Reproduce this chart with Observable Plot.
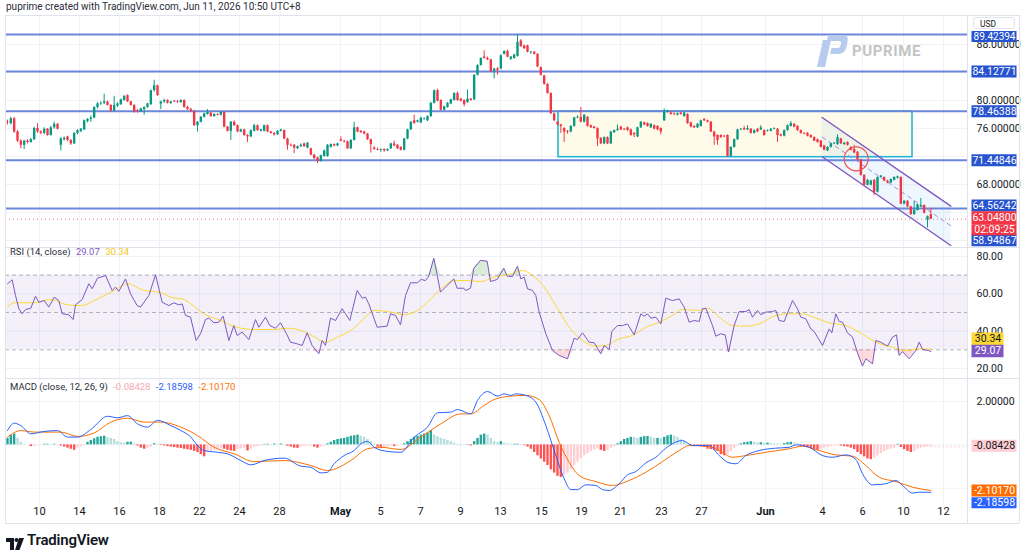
<!DOCTYPE html>
<html><head><meta charset="utf-8">
<script src="https://cdn.jsdelivr.net/npm/d3@7"></script>
<script src="https://cdn.jsdelivr.net/npm/@observablehq/plot@0.6"></script>
<style>
body{margin:0;background:#fff;font-family:Roboto,"Liberation Sans",sans-serif;color:#131722;}
#root{position:relative;width:1024px;height:558px;overflow:hidden;background:#fff;}
.abs{position:absolute;}
.ln{position:absolute;background:#e0e3eb;}
</style></head><body><div id="root"></div>
<script>
// ---------- DATA ----------
// 4h candles: [open, high, low, close]
const candles = [
[76.9,77.2,76.5,76.8],[76.7,77.6,76.5,77.4],[77.4,77.6,75.3,75.5],[75.5,75.7,74.0,74.2],[74.2,74.4,73.1,73.6],[73.6,74.3,73.0,74.2],
[74.2,74.4,73.8,74.0],[74.0,74.6,73.9,74.4],[74.4,76.2,74.3,76.0],[76.0,76.7,75.3,75.5],[75.5,75.7,75.1,75.3],[75.3,76.1,75.1,75.9],
[75.9,76.0,74.9,75.0],[75.0,76.3,74.9,76.1],[76.1,76.9,75.9,76.6],[76.6,76.7,75.8,75.9],[73.6,74.7,72.8,74.5],[74.4,74.8,74.2,74.6],
[74.8,74.9,74.1,74.3],[74.3,74.4,73.6,73.8],[73.8,75.4,73.7,75.3],[75.3,75.8,75.1,75.7],[75.6,76.0,75.4,75.9],[75.8,77.2,75.7,77.1],
[77.0,77.4,76.8,77.3],[77.3,77.8,76.9,77.5],[77.5,79.1,77.4,79.0],[79.0,79.7,78.8,79.5],[79.5,79.8,79.3,79.6],[79.6,80.9,79.4,79.8],
[79.8,79.9,79.2,79.3],[79.3,79.4,78.3,78.5],[78.5,80.6,78.4,79.3],[79.2,79.7,79.0,79.5],[79.4,80.2,79.3,80.1],[80.0,80.7,79.9,80.6],
[80.7,80.8,79.7,79.8],[79.8,79.9,79.2,79.3],[79.3,79.4,78.2,78.4],[78.5,78.7,78.2,78.4],[78.4,78.9,78.3,78.8],[78.7,79.1,77.9,79.0],
[79.0,79.6,78.9,79.5],[79.4,81.5,79.3,81.4],[81.4,82.9,81.2,82.1],[82.1,82.2,80.6,80.7],[79.5,79.9,78.7,79.8],[79.8,80.2,79.6,80.0],
[80.0,80.1,79.5,79.6],[79.6,79.9,79.4,79.8],[79.9,80.0,79.7,79.8],[79.8,80.0,79.6,79.7],[79.7,80.1,79.6,80.0],[80.0,80.1,78.9,79.0],
[79.0,79.2,78.6,78.7],[78.7,78.9,78.3,78.5],[78.4,78.6,76.3,76.4],[76.4,77.0,75.5,76.9],[76.9,77.7,76.8,77.6],[77.6,78.2,77.5,78.1],
[78.0,78.7,77.9,78.3],[78.2,78.3,77.6,77.7],[77.7,78.1,77.6,78.0],[78.0,78.1,77.8,77.9],[77.9,78.4,77.8,78.3],[78.3,78.4,76.1,76.2],
[76.2,76.3,75.5,75.6],[75.6,77.0,74.3,76.9],[76.9,77.1,76.3,76.4],[76.4,76.5,75.4,75.5],[75.5,75.9,75.4,75.8],[75.8,75.9,74.9,75.0],
[75.0,75.1,74.0,74.8],[74.8,75.8,74.7,75.7],[75.6,76.6,75.5,76.4],[76.4,76.5,75.6,75.7],[75.6,75.9,75.5,75.8],[75.6,76.5,75.5,76.4],
[76.4,76.5,75.4,75.5],[75.5,75.6,75.2,75.3],[75.3,75.4,74.9,75.1],[75.1,75.7,75.0,75.6],[75.6,75.9,75.5,75.8],[75.7,75.8,74.4,74.5],
[74.5,74.6,72.9,73.6],[73.6,73.8,73.4,73.5],[73.6,73.7,72.4,73.2],[73.1,73.5,73.0,73.4],[73.4,73.8,73.3,73.6],[73.8,73.9,73.3,73.4],
[73.2,74.0,73.1,73.9],[73.1,73.2,72.1,72.2],[72.2,72.3,71.6,71.7],[71.8,71.9,71.0,71.3],[71.3,72.2,71.2,72.1],[72.0,72.9,71.9,72.8],
[72.0,73.7,71.9,73.6],[73.3,73.8,73.2,73.7],[73.7,73.8,73.4,73.5],[73.5,73.9,73.4,73.8],[74.4,74.8,74.1,74.2],[74.2,74.3,73.9,74.1],
[74.1,74.2,73.0,73.1],[73.1,74.4,73.0,74.3],[74.3,76.9,74.2,76.1],[76.1,76.2,75.4,75.5],[75.6,75.7,75.3,75.4],[75.5,75.6,75.1,75.2],
[75.2,75.3,74.3,74.4],[74.4,74.5,72.5,73.7],[73.2,73.4,72.9,73.0],[73.0,73.2,72.8,72.9],[72.9,73.1,72.6,73.0],[73.0,73.1,72.6,72.8],
[72.8,73.1,72.7,73.0],[73.1,73.9,73.0,73.8],[73.8,74.2,73.4,73.5],[73.6,73.7,73.0,73.1],[73.3,73.4,72.8,72.9],[72.9,74.6,72.8,74.5],
[74.5,75.9,74.4,75.8],[75.8,77.0,75.7,76.9],[77.1,77.9,76.6,76.7],[76.9,77.2,76.8,77.1],[76.8,77.6,76.7,77.5],[77.3,77.5,77.2,77.4],
[77.1,77.8,77.0,77.7],[77.7,79.7,77.6,79.6],[79.6,81.5,79.5,81.4],[81.4,81.6,79.8,79.9],[80.0,80.1,78.5,78.6],[78.6,79.2,78.5,79.1],
[79.0,79.7,78.9,79.6],[79.5,80.2,79.4,80.1],[80.0,81.1,79.9,81.0],[81.0,81.2,79.9,80.0],[80.2,80.3,79.8,79.9],[80.0,80.1,79.1,79.4],
[79.7,81.5,79.6,80.2],[80.2,80.3,79.9,80.0],[80.1,83.7,80.0,83.6],[83.6,85.1,83.5,85.0],[85.0,86.1,84.9,86.0],[86.2,87.1,85.9,86.0],
[86.0,86.2,85.7,85.8],[85.8,85.9,84.0,84.1],[84.1,84.6,83.1,84.5],[84.5,84.7,83.6,84.3],[84.5,86.5,84.4,86.4],[86.6,87.1,86.5,87.0],
[87.0,87.2,86.1,86.2],[85.9,86.3,85.7,86.2],[86.0,86.6,85.9,86.5],[86.3,89.4,86.2,88.3],[88.5,88.7,87.6,87.7],[87.8,87.9,87.3,87.4],
[87.8,87.9,86.8,86.9],[86.8,87.0,86.6,86.9],[86.9,87.0,86.5,86.6],[86.6,86.7,84.7,84.8],[84.7,84.8,83.5,83.6],[83.5,83.6,82.2,82.3],
[82.3,82.4,80.9,81.0],[81.0,81.1,78.0,78.1],[78.1,78.2,77.0,77.1],[76.9,77.0,76.4,76.5],[76.5,76.6,75.3,76.3],[76.0,76.1,74.0,75.5],
[75.6,75.7,75.2,75.5],[75.5,76.4,75.4,76.3],[76.3,77.6,76.2,77.5],[77.5,77.8,77.4,77.6],[77.6,79.0,76.8,76.9],[76.9,78.0,76.8,77.9],
[77.6,77.7,76.2,76.3],[76.4,76.5,76.0,76.1],[76.2,76.3,75.9,76.0],[76.0,76.1,73.4,74.5],[74.6,74.7,73.7,73.8],[73.8,74.8,73.7,74.7],
[74.7,74.8,73.7,73.8],[73.8,75.6,73.7,75.5],[75.4,75.8,75.3,75.7],[75.7,76.5,75.6,75.9],[76.2,76.3,75.7,75.8],[75.9,76.0,75.7,75.8],
[76.1,76.2,75.6,75.7],[75.8,75.9,74.9,75.0],[75.3,75.4,74.7,75.1],[74.8,76.2,74.7,76.1],[76.1,77.0,76.0,76.9],[76.8,76.9,76.4,76.5],
[76.7,76.8,76.2,76.3],[76.1,76.7,76.0,76.6],[76.4,76.5,75.8,75.9],[76.3,76.4,75.7,75.8],[76.0,76.1,75.1,75.5],[77.1,78.8,77.0,78.3],
[78.3,78.6,78.2,78.5],[78.2,78.4,77.9,78.0],[78.1,78.2,77.8,78.0],[77.9,78.2,77.8,78.1],[78.2,78.3,77.9,78.0],[77.7,78.3,77.6,78.2],
[78.0,78.1,76.6,76.7],[76.8,76.9,76.1,76.2],[76.3,76.4,76.0,76.1],[76.1,76.7,76.0,76.6],[76.3,77.2,76.2,77.1],[77.3,77.4,77.0,77.1],
[77.1,77.2,76.8,76.9],[76.9,77.0,75.4,75.5],[75.5,75.6,73.6,74.8],[75.0,75.1,73.6,74.3],[75.0,75.1,74.6,74.7],[74.9,75.0,74.7,74.8],
[75.0,75.1,71.9,72.0],[72.0,73.4,71.9,73.3],[73.3,74.5,73.2,74.4],[74.4,75.9,74.3,75.8],[75.8,76.0,75.7,75.9],[76.0,76.3,75.7,75.8],
[75.8,76.4,75.7,76.0],[75.9,76.0,75.2,75.3],[75.3,75.8,75.2,75.7],[75.9,76.0,75.4,75.5],[75.8,76.4,75.7,76.1],[75.7,75.8,74.9,75.0],
[75.6,75.8,75.5,75.7],[75.6,76.0,75.5,75.9],[75.9,76.1,75.8,76.0],[75.9,76.0,74.0,75.0],[75.1,75.2,74.8,74.9],[74.9,75.8,74.8,75.7],
[75.7,76.5,75.6,76.4],[76.3,77.0,76.2,76.7],[76.6,76.7,76.1,76.2],[76.3,76.4,75.6,75.7],[75.7,75.8,75.2,75.3],[75.3,75.4,75.1,75.2],
[75.3,75.4,74.8,74.9],[75.0,75.1,74.6,74.7],[74.7,74.8,74.1,74.2],[74.4,74.5,73.9,74.0],[74.2,74.3,73.2,73.3],[73.5,73.6,72.8,72.9],
[72.8,73.4,72.7,73.3],[73.3,73.9,73.2,73.8],[73.8,74.0,73.7,73.9],[73.7,75.1,73.6,74.7],[74.5,74.6,73.7,73.8],[73.7,74.0,73.6,73.9],
[74.0,74.1,73.5,73.6],[73.3,73.4,72.8,72.9],[73.0,73.6,72.4,72.5],[72.6,72.7,71.4,71.5],[71.5,71.6,69.2,69.3],[69.3,69.4,67.8,67.9],
[67.9,68.7,67.8,68.6],[67.9,68.6,67.8,68.5],[68.6,68.7,66.4,66.9],[66.9,69.1,66.8,69.0],[69.0,69.3,68.9,69.2],[69.0,69.1,68.4,68.5],
[68.5,68.6,68.1,68.2],[68.2,68.8,68.1,68.7],[68.6,69.1,68.5,69.0],[68.9,69.2,68.8,69.1],[69.0,69.1,65.1,65.2],[65.2,65.7,65.1,65.6],
[65.6,65.7,64.7,64.8],[64.8,64.9,63.6,63.7],[63.7,65.6,63.6,64.3],[64.3,65.2,64.2,65.1],[64.8,66.0,64.7,65.0],[65.0,65.1,63.8,63.9],
[62.9,63.5,61.8,63.4],[63.7,64.6,63.0,63.048]
];
// x-axis labels (bar index of each label)
const tickBars = [9.6,21.6,33.6,45.6,57.6,69.6,81.6,99.9,111.9,123.9,135.9,147.9,160.2,172.2,183.9,196.2,208.2,227.4,244.5,256.5,268.8,280.8];
const tickLabels = ["10","14","16","18","22","24","28","May","5","7","9","13","15","19","21","23","27","Jun","4","6","10","12"];
const priceGrid = [88,84,80,76,72,68,64,60];
const priceLabels = [88,80,76,68];
const topLevel = [89.42394];
const levels = [84.12771,78.46388,71.44846];
const level2 = [64.56242];
const offLevel = [58.94867];
const lastPrice = [63.048];
const countdown = ["02:09:25"];
const zoneBars = [165.3,271.5];
const zonePrices = [71.9,78.43];
const channelBars = [244.4,283];
const channelUpper = [77.57,64.9];
const channelLower = [71.96,59.29];
const circleAt = [[254.6,71.67]];
// RSI (bar, value)
const rsiPts = [[0,65.4],[1.4,67.5],[2.4,59.1],[3.4,52.0],[4.4,49.3],[5.4,51.6],[7,52.3],[8.4,58.7],[9.4,55.5],[11,56.4],[12.4,52.9],[14,58.2],[15.4,56.4],[16.4,49.3],[18.4,48.8],[19.7,46.2],[20.4,54.1],[22.4,57.0],[24.4,65.4],[25.4,62.7],[27,68.4],[29.4,69.8],[31.4,61.8],[32.4,63.6],[33.4,61.3],[35.4,68.0],[36.9,60.0],[38.9,53.7],[39.9,52.9],[42.4,59.1],[44.4,70.2],[46.4,55.5],[48.4,53.7],[49.9,55.2],[51.4,54.1],[52.4,54.6],[53.4,48.4],[54.9,47.5],[56.6,35.0],[57.9,38.6],[59.4,46.2],[60.4,47.0],[61.9,44.5],[63.4,44.8],[64.7,48.0],[66.4,35.0],[67.9,43.0],[68.9,37.7],[70.4,39.5],[72.4,35.5],[74.4,46.2],[75.4,42.1],[77.4,47.5],[78.7,43.0],[80.4,41.6],[81.9,44.5],[83.7,38.6],[84.9,34.1],[86.9,33.2],[88.4,32.3],[89.9,39.1],[91.4,32.3],[93.4,27.9],[94.4,35.0],[95.4,32.3],[96.9,47.0],[98.4,45.7],[100.4,52.0],[101.4,49.3],[102.7,45.7],[104.9,61.8],[106.4,57.7],[107.4,58.2],[108.4,54.6],[110.9,42.1],[113.9,42.7],[114.9,49.3],[116.4,48.4],[117.9,43.4],[119.4,59.1],[120.9,65.9],[122.9,65.9],[124.1,67.7],[125.4,67.1],[126.4,69.5],[127.9,79.1],[129.9,60.9],[131.9,64.5],[133.9,68.0],[134.9,63.0],[136.9,63.0],[137.4,61.8],[138.9,63.0],[139.9,73.7],[141.9,77.9],[143.9,77.5],[144.9,66.6],[146.9,67.7],[148.9,73.7],[149.9,69.5],[151.5,69.3],[153,74.8],[154,68.0],[155,68.9],[156,62.7],[157.5,61.8],[158.5,59.1],[159.5,50.2],[161.5,38.6],[163.5,29.6],[165.5,27.0],[168,25.2],[170,36.2],[171,35.5],[172.5,39.1],[174.5,34.1],[176,33.8],[178,27.9],[179,32.3],[180.5,30.2],[181.3,39.8],[183,43.0],[184.5,43.0],[186,43.9],[188,38.0],[190,49.3],[191,48.0],[192,49.3],[193,47.0],[194.5,47.5],[196,43.9],[197.5,57.7],[199.5,56.4],[201.5,57.3],[203,52.9],[204.5,44.8],[206,45.7],[207.5,45.2],[208.5,52.0],[209.5,52.3],[211.5,43.0],[212.5,37.3],[214,38.6],[215.3,38.0],[216.3,28.8],[218,43.0],[219.5,50.5],[221.5,50.5],[222.5,51.6],[223.5,47.5],[225,51.1],[226,48.8],[227.5,50.2],[229.5,50.5],[230.5,51.1],[231.5,45.7],[233,45.2],[235.5,56.4],[237,52.0],[238,47.5],[239.5,46.6],[241,41.2],[242,39.8],[244.5,32.3],[246.5,41.2],[247.3,39.1],[248.5,49.3],[249.5,45.2],[250.5,44.8],[252,39.1],[253.5,36.8],[255,28.4],[256.5,21.3],[257.5,25.2],[259.5,22.5],[260.5,35.0],[262,34.1],[264,32.0],[265.5,36.8],[266.7,38.0],[267.5,27.0],[268.5,29.1],[270.5,25.2],[272.5,29.6],[273.5,34.1],[274.5,30.2],[276.3,29.6],[277,29.07]];
const rsiMaPts = [[0,52.9],[2,55.2],[8,55.2],[13,57.0],[18,54.1],[22,53.7],[27,57.3],[32,61.8],[36,65.4],[41,61.8],[45.4,60.9],[50,57.7],[52.4,57.3],[55.4,54.1],[58.9,49.3],[64,45.7],[68,42.5],[74,40.9],[80,40.9],[84,41.6],[88,40.4],[91,38.0],[95.4,34.1],[99,36.8],[103,40.4],[106.4,45.7],[110,51.1],[115,50.2],[119,48.8],[123,51.1],[127,57.3],[130,62.7],[134,67.1],[138,67.1],[142,66.6],[146,68.9],[151,70.7],[154.5,72.5],[157.5,69.8],[160.5,64.8],[164.5,53.7],[168.5,42.1],[172.5,35.0],[176.5,32.0],[179.5,32.3],[183.5,35.9],[187.5,37.7],[191.5,42.1],[195.5,44.8],[199.5,48.4],[202.5,51.6],[207.5,51.1],[210,52.3],[213.5,47.5],[217.5,43.0],[221.5,42.7],[225.5,43.9],[230.5,48.4],[234.5,49.3],[238.5,49.3],[242.5,47.0],[246.5,44.5],[251.5,43.0],[255.5,39.5],[260.5,34.1],[265.5,31.4],[269.5,29.6],[273.5,30.5],[277,30.34]];
const rsiTicks = [80,60,40,20];
const rsiBands = [70,50,30];
const rsiLast = [29.07];
const rsiMaLast = [30.34];
// MACD (bar, value)
const macdPts = [[0,0.66],[2,1.0],[4,0.89],[7,0.51],[11,0.62],[15,0.66],[18,0.36],[21,0.36],[25,0.71],[30,1.32],[33,1.25],[36,1.35],[39,0.97],[42,0.82],[45,1.13],[49,0.89],[52,0.66],[55,0.36],[57,-0.03],[59,-0.26],[63,-0.34],[66,-0.41],[70,-0.72],[73,-0.92],[77,-0.72],[83,-0.61],[88,-0.98],[91,-1.03],[94,-1.29],[96,-1.26],[98,-0.87],[101,-0.49],[104,-0.26],[106,0.05],[108,0.16],[110,-0.11],[114,-0.30],[118,-0.34],[122,0.36],[126,0.82],[129,1.48],[133,1.51],[135,1.63],[139,1.43],[141,2.05],[144,2.46],[147,2.25],[149,2.35],[151,2.28],[152.5,2.35],[155.5,2.28],[158.5,1.97],[161.5,0.89],[164.5,-0.49],[167,-1.56],[169,-2.06],[171,-2.06],[173.5,-1.84],[176.5,-1.87],[178.5,-2.06],[180.5,-2.10],[183.5,-1.79],[186,-1.38],[188.5,-1.23],[191.5,-0.83],[194.5,-0.57],[197.5,-0.15],[202.5,0.20],[205.5,-0.03],[210.5,-0.03],[213.5,-0.49],[216.5,-0.83],[218.5,-0.87],[221.5,-0.49],[225.5,-0.26],[230.5,-0.15],[234.5,-0.11],[236.5,0.0],[240.5,-0.11],[244.5,-0.49],[247.5,-0.57],[251.5,-0.46],[254.5,-0.67],[256.5,-1.33],[259.5,-1.84],[263.5,-1.79],[266.5,-1.64],[268.5,-1.87],[271.5,-2.22],[273.5,-2.18],[277,-2.186]];
const signalPts = [[0,0.36],[4,0.66],[8,0.59],[16,0.59],[21,0.39],[26,0.55],[31,1.05],[36,1.23],[41,1.05],[46,1.05],[52,0.82],[57,0.43],[62,-0.11],[68,-0.41],[74,-0.77],[83,-0.72],[91,-0.95],[96,-1.18],[103,-0.72],[108,-0.18],[112,-0.11],[118,-0.21],[124,0.36],[130,0.97],[136,1.43],[139,1.43],[143,1.82],[146,2.09],[151,2.25],[155.5,2.28],[159.5,2.09],[162.5,1.35],[165.5,0.12],[168.5,-0.80],[171.5,-1.41],[176.5,-1.69],[181.5,-1.87],[186.5,-1.64],[191.5,-1.26],[196.5,-0.77],[201.5,-0.26],[204.5,-0.03],[209.5,-0.06],[213.5,-0.26],[217.5,-0.57],[221.5,-0.49],[227.5,-0.34],[234.5,-0.18],[238.5,-0.06],[243.5,-0.26],[248.5,-0.46],[253.5,-0.52],[257.5,-0.95],[261.5,-1.49],[266.5,-1.69],[271.5,-1.95],[277,-2.1017]];
const hist = [0.3,0.45,0.5,0.3,0.12,0.02,0.0,-0.08,-0.08,-0.02,-0.01,0.03,0.03,0.02,0.03,0.02,-0.05,-0.1,-0.15,-0.2,-0.25,-0.15,-0.08,-0.03,
0.12,0.2,0.28,0.35,0.38,0.4,0.35,0.3,0.25,0.15,0.1,0.08,0.12,0.13,0.05,-0.05,-0.15,-0.2,-0.15,-0.1,0.06,0.03,-0.03,-0.05,
-0.08,-0.1,-0.12,-0.15,-0.17,-0.2,-0.22,-0.25,-0.3,-0.35,-0.45,-0.55,-0.35,-0.3,-0.25,-0.2,-0.18,-0.2,-0.25,-0.28,-0.3,-0.22,-0.18,-0.15,
-0.28,-0.2,-0.12,-0.08,-0.05,0.02,0.03,0.02,0.04,0.03,0.04,0.02,-0.06,-0.1,-0.15,-0.16,-0.1,-0.08,-0.05,-0.05,-0.1,-0.15,-0.1,-0.05,
0.05,0.12,0.2,0.25,0.28,0.3,0.35,0.4,0.42,0.45,0.4,0.35,0.25,0.15,0.05,-0.1,-0.15,-0.12,-0.08,-0.05,-0.08,-0.05,-0.02,0.05,
0.15,0.25,0.35,0.4,0.45,0.5,0.55,0.66,0.45,0.38,0.3,0.25,0.2,0.15,0.08,0.03,0.02,0.01,0.02,-0.05,0.15,0.3,0.45,0.5,
0.45,0.3,0.15,0.1,0.15,0.08,0.05,0.03,0.03,0.03,0.02,-0.03,-0.1,-0.2,-0.35,-0.5,-0.65,-0.8,-0.95,-1.15,-1.3,-1.45,-1.5,-1.4,
-1.3,-1.15,-0.95,-0.8,-0.65,-0.5,-0.4,-0.3,-0.25,-0.2,-0.25,-0.3,-0.25,-0.15,-0.08,0.05,0.15,0.25,0.3,0.35,0.34,0.3,0.35,0.38,
0.39,0.35,0.3,0.3,0.28,0.35,0.42,0.45,0.4,0.35,0.25,0.15,0.05,-0.02,-0.03,-0.05,-0.08,-0.12,-0.2,-0.22,-0.25,-0.3,-0.45,-0.5,
-0.45,-0.3,-0.15,-0.05,0.05,0.1,0.12,0.15,0.12,0.1,0.1,0.08,0.08,0.06,0.05,0.04,0.03,0.06,0.1,0.12,0.08,0.04,-0.03,-0.08,
-0.12,-0.18,-0.22,-0.25,-0.2,-0.15,-0.12,-0.08,-0.05,-0.04,-0.05,-0.08,-0.1,-0.15,-0.22,-0.35,-0.45,-0.55,-0.65,-0.68,-0.6,-0.5,-0.4,-0.3,
-0.25,-0.2,-0.15,0.03,-0.12,-0.22,-0.3,-0.35,-0.3,-0.2,-0.15,-0.12,-0.1,-0.08428];
const macdGrid = [2,0,-2];
const macdLabels = [2];
const macdLast = [-2.18598];
const signalLast = [-2.10170];
const histLast = [-0.08428];

// ---------- LAYOUT / STYLE ----------
const root = document.getElementById("root");
const FONT = 'Roboto, "Liberation Sans", sans-serif';
const W = 1019, MR = 57, FW = W - MR;
const xDomain = [-0.6, 288.0];
const UP = "#089981", DN = "#f23645", GRID = "#f0f2f6";
const FS = 10.5;
const baseStyle = {fontFamily: FONT, fontSize: FS + "px", color: "#131722", background: "transparent", overflow: "visible"};

function place(el, left, top) {
  const d = document.createElement("div");
  d.className = "abs"; d.style.left = left + "px"; d.style.top = top + "px";
  d.appendChild(el); root.appendChild(d); return d;
}
function tag(vals, {bg, fg, dy = 0, w = 45, h = 12, text, x0 = 4.5, fs = FS}) {
  return [
    Plot.tickY(vals, {y: d => d, stroke: bg, strokeWidth: h, insetLeft: FW + x0, insetRight: -(x0 + w), dy}),
    Plot.text(vals, {y: d => d, text, frameAnchor: "right", textAnchor: "middle", dx: x0 + w / 2, dy, fill: fg, fontSize: fs})
  ];
}
function axisText(vals, fmt, dy = 0) {
  return Plot.text(vals, {y: d => d, text: fmt, frameAnchor: "right", textAnchor: "start", dx: 9, dy, fill: "#131722", fontSize: FS});
}
const fmt5 = d => d.toFixed(5);

// ---------- PRICE PANE ----------
const candleData = candles.map(([o, h, l, c], i) => ({i, o, h, l, c, col: c >= o ? UP : DN}));
const zone = [{x1: zoneBars[0], x2: zoneBars[1], y1: zonePrices[0], y2: zonePrices[1]}];
const channel = channelBars.map((b, k) => ({b, up: channelUpper[k], lo: channelLower[k], mid: (channelUpper[k] + channelLower[k]) / 2}));

const pricePlot = Plot.plot({
  width: W, height: 232, marginLeft: 0, marginRight: MR, marginTop: 0, marginBottom: 0,
  x: {domain: xDomain, axis: null}, y: {domain: [59.0, 92.143], axis: null},
  color: {type: "identity"}, style: baseStyle,
  marks: [
    Plot.ruleX(tickBars, {stroke: GRID}),
    Plot.ruleY(priceGrid, {stroke: GRID}),
    Plot.rect(zone, {x1: "x1", x2: "x2", y1: "y1", y2: "y2", fill: "#fffbea", stroke: "#22b8d4", strokeWidth: 1.6}),
    Plot.areaY(channel, {x: "b", y1: "lo", y2: "up", fill: "#2196f3", fillOpacity: 0.08, clip: true}),
    Plot.ruleY([...topLevel, ...levels, ...level2], {stroke: "#6c86dc", strokeWidth: 2}),
    Plot.ruleY(lastPrice, {stroke: DN, strokeOpacity: 0.7, strokeDasharray: "1,3"}),
    Plot.line(channel, {x: "b", y: "up", stroke: "#7e57c2", strokeWidth: 1.4, clip: true}),
    Plot.line(channel, {x: "b", y: "lo", stroke: "#7e57c2", strokeWidth: 1.4, clip: true}),
    Plot.line(channel, {x: "b", y: "mid", stroke: "#9c8fe0", strokeWidth: 1, strokeDasharray: "4,4", clip: true}),
    Plot.ruleX(candleData, {x: "i", y1: "l", y2: "h", stroke: "col", strokeWidth: 1}),
    Plot.ruleX(candleData, {x: "i", y1: "o", y2: "c", stroke: "col", strokeWidth: 2.4}),
    Plot.dot(circleAt, {x: d => d[0], y: d => d[1], r: 12, stroke: "#ef5350", strokeWidth: 1.2, fill: "none"}),
    axisText(priceLabels, fmt5),
    ...tag(topLevel, {bg: "#2753cf", fg: "#fff", text: fmt5, dy: 2, h: 11, fs: 10}),
    ...tag(levels, {bg: "#2753cf", fg: "#fff", text: fmt5}),
    ...tag(level2, {bg: "#2753cf", fg: "#fff", text: fmt5, dy: -3}),
    ...tag(offLevel, {bg: "#2753cf", fg: "#fff", text: fmt5, dy: -7.5}),
    ...tag(lastPrice, {bg: DN, fg: "#fff", text: fmt5, dy: -1.5, h: 13}),
    ...tag(lastPrice, {bg: DN, fg: "#fff", text: () => countdown[0], dy: 10.5, h: 11})
  ]
});
place(pricePlot, 5, 15);

// ---------- RSI PANE ----------
const rsiData = rsiPts.map(([b, v]) => ({b, v}));
const rsiMaData = rsiMaPts.map(([b, v]) => ({b, v}));
const rsiPlot = Plot.plot({
  width: W, height: 131, marginLeft: 0, marginRight: MR, marginTop: 0, marginBottom: 0,
  x: {domain: xDomain, axis: null}, y: {domain: [14.64, 84.82], axis: null},
  color: {type: "identity"}, style: baseStyle,
  marks: [
    Plot.ruleX(tickBars, {stroke: GRID}),
    Plot.ruleY(rsiTicks, {stroke: GRID}),
    Plot.rect([rsiBands], {x1: xDomain[0], x2: xDomain[1], y1: d => d[2], y2: d => d[0], fill: "#7e57c2", fillOpacity: 0.09}),
    Plot.ruleY(rsiBands, {stroke: "#787b86", strokeOpacity: 0.55, strokeDasharray: "4,3"}),
    Plot.areaY(rsiData, {x: "b", y1: rsiBands[0], y2: d => Math.max(rsiBands[0], d.v), fill: "#4caf50", fillOpacity: 0.22}),
    Plot.areaY(rsiData, {x: "b", y1: rsiBands[2], y2: d => Math.min(rsiBands[2], d.v), fill: "#f23645", fillOpacity: 0.18}),
    Plot.line(rsiMaData, {x: "b", y: "v", stroke: "#fdd835", strokeWidth: 1, curve: "monotone-x"}),
    Plot.line(rsiData, {x: "b", y: "v", stroke: "#7e57c2", strokeWidth: 1}),
    axisText(rsiTicks, d => d.toFixed(2)),
    ...tag(rsiMaLast, {bg: "#fdd835", fg: "#131722", text: d => d.toFixed(2), w: 32, dy: -10.5, h: 12.5}),
    ...tag(rsiLast, {bg: "#7e57c2", fg: "#fff", text: d => d.toFixed(2), w: 32, dy: -0.5, h: 12.5})
  ]
});
place(rsiPlot, 5, 247);

// ---------- MACD PANE ----------
const histData = hist.map((v, i) => {
  const p = i > 0 ? hist[i - 1] : v;
  const col = v >= 0 ? (v >= p ? "#26a69a" : "#b2dfdb") : (v < p ? "#ff5252" : "#ffcdd2");
  return {i, v, col};
});
const macdData = macdPts.map(([b, v]) => ({b, v}));
const sigData = signalPts.map(([b, v]) => ({b, v}));
const ticks = tickBars.map((b, k) => ({b, label: tickLabels[k], month: isNaN(+tickLabels[k])}));
const macdPlot = Plot.plot({
  width: W, height: 145, marginLeft: 0, marginRight: MR, marginTop: 0, marginBottom: 18,
  x: {domain: xDomain, axis: null}, y: {domain: [-2.793, 3.06], axis: null},
  color: {type: "identity"}, style: baseStyle,
  marks: [
    Plot.ruleX(tickBars, {stroke: GRID}),
    Plot.ruleY(macdGrid, {stroke: GRID}),
    Plot.ruleX(histData, {x: "i", y1: 0, y2: "v", stroke: "col", strokeWidth: 2.4}),
    Plot.ruleY(histLast, {x1: hist.length - 1, x2: xDomain[1], stroke: "#ffcdd2", strokeDasharray: "2,2"}),
    Plot.line(sigData, {x: "b", y: "v", stroke: "#ff6d00", strokeWidth: 1, curve: "monotone-x"}),
    Plot.line(macdData, {x: "b", y: "v", stroke: "#2962ff", strokeWidth: 1, curve: "monotone-x"}),
    axisText(macdLabels, fmt5),
    ...tag(histLast, {bg: "#ffcdd2", fg: "#131722", text: fmt5, dy: -1}),
    ...tag(signalLast, {bg: "#ff6d00", fg: "#fff", text: fmt5, dy: 0}),
    ...tag(macdLast, {bg: "#2962ff", fg: "#fff", text: fmt5, dy: 10.5, h: 11}),
    Plot.text(ticks.filter(d => !d.month), {x: "b", text: "label", frameAnchor: "bottom", dy: 9, fill: "#131722", fontSize: 11}),
    Plot.text(ticks.filter(d => d.month), {x: "b", text: "label", frameAnchor: "bottom", dy: 9, fill: "#131722", fontSize: 11, fontWeight: "bold"})
  ]
});
place(macdPlot, 5, 378);

// ---------- DECORATION ----------
function line(l, t, w, h) { const d = document.createElement("div"); d.className = "ln"; Object.assign(d.style, {left: l + "px", top: t + "px", width: w + "px", height: h + "px"}); root.appendChild(d); }
line(5, 15, 1014, 1); line(5, 247, 1014, 1); line(5, 378, 1014, 1); line(5, 523, 1014, 1);
line(5, 15, 1, 508); line(967, 15, 1, 508); line(1019, 15, 1, 508);

function html(h, l, t, css = "") { const d = document.createElement("div"); d.className = "abs"; d.style.cssText += `left:${l}px;top:${t}px;white-space:nowrap;` + css; d.innerHTML = h; root.appendChild(d); return d; }
html("puprime created with TradingView.com, Jun 11, 2026 10:50 UTC+8", 6, 1, "font-size:10px;color:#2a2e39;");
html("USD", 973, 17, "width:42px;height:12px;border:1px solid #e0e3eb;border-radius:3px;background:#fff;font-size:8.5px;line-height:12px;padding-left:6px;box-sizing:border-box;color:#131722;");
html(`RSI (14, close) <span style="color:#7e57c2;margin-left:3px">${rsiLast[0].toFixed(2)}</span> <span style="color:#f5c518;margin-left:3px">${rsiMaLast[0].toFixed(2)}</span>`, 10, 246, "font-size:9.5px;color:#2a2e39;");
html(`MACD (close, 12, 26, 9) <span style="color:#f7a8b3;margin-left:3px">${histLast[0].toFixed(5)}</span> <span style="color:#2962ff;margin-left:3px">${macdLast[0].toFixed(5)}</span> <span style="color:#ff6d00;margin-left:3px">${signalLast[0].toFixed(5)}</span>`, 10, 381, "font-size:9.5px;color:#2a2e39;");
// PU Prime watermark
html(`<svg width="34" height="34" viewBox="0 0 34 34"><path d="M1 33 L9 33 L15 6 L7 6 Z" fill="#b7cbef"/><path d="M12 1 L27 1 Q33 1 31.5 8 L30.5 13 Q29 20 22 20 L14 20 L15.5 14 L21.5 14 Q24 14 24.5 11.5 L25 9.5 Q25.5 7 23 7 L11 7 Z" fill="#b7cbef"/></svg>`, 816, 34);
html("PUPRIME", 852, 42, "font-size:15px;font-weight:bold;color:#c4c4c4;letter-spacing:0.6px;");
// TradingView logo
html(`<svg width="18" height="12" viewBox="0 0 18 12"><path d="M0 0 H8 V12 H4 V4 H0 Z" fill="#131722"/><circle cx="10.5" cy="2" r="2" fill="#131722"/><path d="M13 0 H18 L13.5 12 H9 Z" fill="#131722"/></svg>`, 6, 535);
html("TradingView", 27, 531, "font-size:15px;font-weight:600;color:#131722;letter-spacing:-0.2px;");
</script>
</body></html>
